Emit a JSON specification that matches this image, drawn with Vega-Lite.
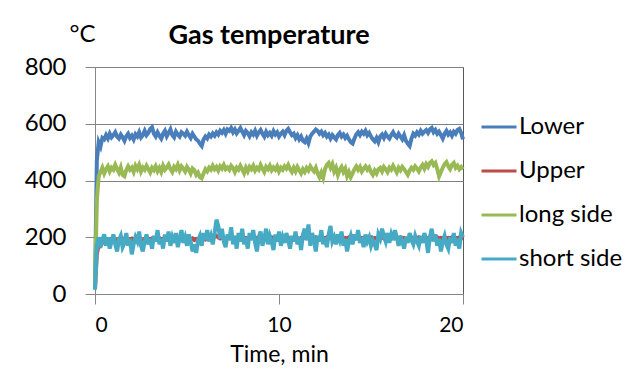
{
"$schema": "https://vega.github.io/schema/vega-lite/v6.json",
"width": 368, "height": 227,
"autosize": {"type": "none"},
"padding": {"left": 95, "top": 67, "right": 178, "bottom": 83},
"background": "white",
"config": {"font": "Lato", "view": {"stroke": "#595959", "strokeWidth": 1}},
"title": {"text": "Gas temperature", "fontSize": 27, "fontWeight": "bold", "color": "#000", "anchor": "middle", "frame": "group", "dx": -10, "dy": 42, "offset": 14},
"data": {"values": [
{"t":0,"Lower":30,"Upper":20,"long side":30,"short side":15},
{"t":0.1,"Lower":470,"Upper":140,"long side":330,"short side":170},
{"t":0.2,"Lower":535,"Upper":175,"long side":415,"short side":200},
{"t":0.3,"Lower":520,"Upper":170,"long side":430,"short side":165},
{"t":0.4,"Lower":550,"Upper":180,"long side":445,"short side":190},
{"t":0.5,"Lower":545,"Upper":185,"long side":425,"short side":210},
{"t":0.6,"Lower":560,"Upper":178,"long side":440,"short side":170},
{"t":0.7,"Lower":548,"Upper":182,"long side":450,"short side":200},
{"t":0.8,"Lower":565,"Upper":186,"long side":432,"short side":160},
{"t":0.9,"Lower":552,"Upper":190,"long side":445,"short side":185},
{"t":1.0,"Lower":560,"Upper":185,"long side":438,"short side":210},
{"t":1.1,"Lower":570,"Upper":192,"long side":455,"short side":175},
{"t":1.2,"Lower":555,"Upper":188,"long side":440,"short side":150},
{"t":1.3,"Lower":548,"Upper":186,"long side":428,"short side":190},
{"t":1.4,"Lower":562,"Upper":190,"long side":446,"short side":205},
{"t":1.5,"Lower":552,"Upper":195,"long side":420,"short side":165},
{"t":1.6,"Lower":540,"Upper":188,"long side":415,"short side":180},
{"t":1.7,"Lower":556,"Upper":192,"long side":437,"short side":215},
{"t":1.8,"Lower":565,"Upper":188,"long side":450,"short side":170},
{"t":1.9,"Lower":550,"Upper":192,"long side":438,"short side":195},
{"t":2.0,"Lower":558,"Upper":195,"long side":445,"short side":140},
{"t":2.1,"Lower":545,"Upper":190,"long side":430,"short side":175},
{"t":2.2,"Lower":563,"Upper":186,"long side":452,"short side":200},
{"t":2.3,"Lower":555,"Upper":192,"long side":440,"short side":185},
{"t":2.4,"Lower":570,"Upper":196,"long side":455,"short side":220},
{"t":2.5,"Lower":552,"Upper":190,"long side":432,"short side":170},
{"t":2.6,"Lower":560,"Upper":188,"long side":446,"short side":150},
{"t":2.7,"Lower":575,"Upper":194,"long side":438,"short side":185},
{"t":2.8,"Lower":560,"Upper":190,"long side":452,"short side":210},
{"t":2.9,"Lower":568,"Upper":195,"long side":440,"short side":175},
{"t":3.0,"Lower":582,"Upper":192,"long side":428,"short side":195},
{"t":3.1,"Lower":588,"Upper":196,"long side":445,"short side":160},
{"t":3.2,"Lower":565,"Upper":190,"long side":437,"short side":205},
{"t":3.3,"Lower":555,"Upper":194,"long side":450,"short side":185},
{"t":3.4,"Lower":570,"Upper":192,"long side":433,"short side":225},
{"t":3.5,"Lower":558,"Upper":197,"long side":445,"short side":175},
{"t":3.6,"Lower":548,"Upper":190,"long side":430,"short side":195},
{"t":3.7,"Lower":565,"Upper":194,"long side":452,"short side":160},
{"t":3.8,"Lower":575,"Upper":196,"long side":438,"short side":210},
{"t":3.9,"Lower":556,"Upper":192,"long side":446,"short side":185},
{"t":4.0,"Lower":568,"Upper":195,"long side":456,"short side":220},
{"t":4.1,"Lower":580,"Upper":190,"long side":440,"short side":170},
{"t":4.2,"Lower":560,"Upper":196,"long side":430,"short side":200},
{"t":4.3,"Lower":552,"Upper":192,"long side":448,"short side":180},
{"t":4.4,"Lower":572,"Upper":194,"long side":440,"short side":215},
{"t":4.5,"Lower":562,"Upper":198,"long side":455,"short side":165},
{"t":4.6,"Lower":555,"Upper":192,"long side":436,"short side":195},
{"t":4.7,"Lower":570,"Upper":196,"long side":450,"short side":225},
{"t":4.8,"Lower":565,"Upper":192,"long side":442,"short side":180},
{"t":4.9,"Lower":558,"Upper":196,"long side":432,"short side":200},
{"t":5.0,"Lower":572,"Upper":190,"long side":448,"short side":170},
{"t":5.1,"Lower":560,"Upper":194,"long side":438,"short side":210},
{"t":5.2,"Lower":550,"Upper":192,"long side":425,"short side":185},
{"t":5.3,"Lower":565,"Upper":196,"long side":442,"short side":150},
{"t":5.4,"Lower":555,"Upper":190,"long side":436,"short side":175},
{"t":5.5,"Lower":545,"Upper":194,"long side":420,"short side":145},
{"t":5.6,"Lower":540,"Upper":192,"long side":428,"short side":190},
{"t":5.7,"Lower":530,"Upper":196,"long side":412,"short side":205},
{"t":5.8,"Lower":522,"Upper":190,"long side":408,"short side":170},
{"t":5.9,"Lower":545,"Upper":194,"long side":425,"short side":215},
{"t":6.0,"Lower":555,"Upper":192,"long side":440,"short side":190},
{"t":6.1,"Lower":548,"Upper":196,"long side":432,"short side":225},
{"t":6.2,"Lower":562,"Upper":200,"long side":445,"short side":185},
{"t":6.3,"Lower":555,"Upper":194,"long side":438,"short side":205},
{"t":6.4,"Lower":566,"Upper":198,"long side":452,"short side":175},
{"t":6.5,"Lower":558,"Upper":202,"long side":440,"short side":215},
{"t":6.6,"Lower":570,"Upper":205,"long side":448,"short side":262},
{"t":6.7,"Lower":562,"Upper":200,"long side":435,"short side":240},
{"t":6.8,"Lower":575,"Upper":196,"long side":450,"short side":195},
{"t":6.9,"Lower":568,"Upper":200,"long side":442,"short side":230},
{"t":7.0,"Lower":578,"Upper":198,"long side":455,"short side":185},
{"t":7.1,"Lower":565,"Upper":194,"long side":440,"short side":165},
{"t":7.2,"Lower":580,"Upper":198,"long side":446,"short side":210},
{"t":7.3,"Lower":575,"Upper":196,"long side":438,"short side":190},
{"t":7.4,"Lower":585,"Upper":200,"long side":452,"short side":235},
{"t":7.5,"Lower":570,"Upper":196,"long side":444,"short side":175},
{"t":7.6,"Lower":580,"Upper":198,"long side":430,"short side":205},
{"t":7.7,"Lower":566,"Upper":194,"long side":445,"short side":160},
{"t":7.8,"Lower":575,"Upper":198,"long side":438,"short side":215},
{"t":7.9,"Lower":585,"Upper":196,"long side":452,"short side":185},
{"t":8.0,"Lower":572,"Upper":200,"long side":440,"short side":230},
{"t":8.1,"Lower":560,"Upper":196,"long side":426,"short side":175},
{"t":8.2,"Lower":575,"Upper":198,"long side":445,"short side":200},
{"t":8.3,"Lower":568,"Upper":194,"long side":432,"short side":160},
{"t":8.4,"Lower":556,"Upper":198,"long side":448,"short side":215},
{"t":8.5,"Lower":570,"Upper":196,"long side":440,"short side":190},
{"t":8.6,"Lower":562,"Upper":200,"long side":452,"short side":225},
{"t":8.7,"Lower":575,"Upper":196,"long side":435,"short side":180},
{"t":8.8,"Lower":558,"Upper":198,"long side":445,"short side":150},
{"t":8.9,"Lower":570,"Upper":196,"long side":438,"short side":200},
{"t":9.0,"Lower":578,"Upper":200,"long side":455,"short side":220},
{"t":9.1,"Lower":565,"Upper":196,"long side":442,"short side":170},
{"t":9.2,"Lower":555,"Upper":198,"long side":430,"short side":195},
{"t":9.3,"Lower":572,"Upper":194,"long side":448,"short side":230},
{"t":9.4,"Lower":560,"Upper":198,"long side":440,"short side":175},
{"t":9.5,"Lower":568,"Upper":196,"long side":452,"short side":205},
{"t":9.6,"Lower":558,"Upper":200,"long side":436,"short side":185},
{"t":9.7,"Lower":574,"Upper":196,"long side":446,"short side":155},
{"t":9.8,"Lower":562,"Upper":198,"long side":438,"short side":210},
{"t":9.9,"Lower":570,"Upper":194,"long side":450,"short side":185},
{"t":10.0,"Lower":555,"Upper":198,"long side":432,"short side":220},
{"t":10.1,"Lower":565,"Upper":196,"long side":445,"short side":170},
{"t":10.2,"Lower":572,"Upper":200,"long side":438,"short side":200},
{"t":10.3,"Lower":560,"Upper":196,"long side":450,"short side":180},
{"t":10.4,"Lower":575,"Upper":198,"long side":442,"short side":215},
{"t":10.5,"Lower":582,"Upper":194,"long side":455,"short side":190},
{"t":10.6,"Lower":570,"Upper":198,"long side":440,"short side":160},
{"t":10.7,"Lower":560,"Upper":196,"long side":430,"short side":205},
{"t":10.8,"Lower":565,"Upper":200,"long side":445,"short side":185},
{"t":10.9,"Lower":550,"Upper":196,"long side":432,"short side":220},
{"t":11.0,"Lower":560,"Upper":198,"long side":448,"short side":175},
{"t":11.1,"Lower":545,"Upper":194,"long side":436,"short side":200},
{"t":11.2,"Lower":555,"Upper":198,"long side":425,"short side":155},
{"t":11.3,"Lower":540,"Upper":196,"long side":440,"short side":210},
{"t":11.4,"Lower":535,"Upper":200,"long side":430,"short side":230},
{"t":11.5,"Lower":548,"Upper":196,"long side":444,"short side":190},
{"t":11.6,"Lower":532,"Upper":198,"long side":435,"short side":245},
{"t":11.7,"Lower":555,"Upper":194,"long side":450,"short side":170},
{"t":11.8,"Lower":565,"Upper":198,"long side":440,"short side":215},
{"t":11.9,"Lower":572,"Upper":196,"long side":432,"short side":190},
{"t":12.0,"Lower":580,"Upper":200,"long side":445,"short side":150},
{"t":12.1,"Lower":575,"Upper":196,"long side":425,"short side":205},
{"t":12.2,"Lower":565,"Upper":198,"long side":412,"short side":185},
{"t":12.3,"Lower":572,"Upper":194,"long side":428,"short side":225},
{"t":12.4,"Lower":560,"Upper":198,"long side":410,"short side":175},
{"t":12.5,"Lower":568,"Upper":196,"long side":440,"short side":200},
{"t":12.6,"Lower":555,"Upper":200,"long side":455,"short side":165},
{"t":12.7,"Lower":562,"Upper":196,"long side":462,"short side":210},
{"t":12.8,"Lower":548,"Upper":198,"long side":445,"short side":240},
{"t":12.9,"Lower":560,"Upper":194,"long side":458,"short side":185},
{"t":13.0,"Lower":552,"Upper":198,"long side":432,"short side":200},
{"t":13.1,"Lower":545,"Upper":196,"long side":445,"short side":175},
{"t":13.2,"Lower":560,"Upper":200,"long side":420,"short side":210},
{"t":13.3,"Lower":568,"Upper":196,"long side":438,"short side":190},
{"t":13.4,"Lower":555,"Upper":198,"long side":448,"short side":220},
{"t":13.5,"Lower":562,"Upper":194,"long side":430,"short side":170},
{"t":13.6,"Lower":550,"Upper":198,"long side":442,"short side":195},
{"t":13.7,"Lower":558,"Upper":196,"long side":415,"short side":150},
{"t":13.8,"Lower":545,"Upper":200,"long side":430,"short side":185},
{"t":13.9,"Lower":535,"Upper":196,"long side":412,"short side":205},
{"t":14.0,"Lower":530,"Upper":198,"long side":425,"short side":175},
{"t":14.1,"Lower":548,"Upper":194,"long side":440,"short side":210},
{"t":14.2,"Lower":562,"Upper":198,"long side":450,"short side":190},
{"t":14.3,"Lower":570,"Upper":196,"long side":438,"short side":225},
{"t":14.4,"Lower":560,"Upper":200,"long side":448,"short side":180},
{"t":14.5,"Lower":572,"Upper":196,"long side":432,"short side":200},
{"t":14.6,"Lower":565,"Upper":198,"long side":442,"short side":165},
{"t":14.7,"Lower":575,"Upper":194,"long side":450,"short side":210},
{"t":14.8,"Lower":560,"Upper":198,"long side":438,"short side":185},
{"t":14.9,"Lower":568,"Upper":196,"long side":446,"short side":200},
{"t":15.0,"Lower":555,"Upper":200,"long side":430,"short side":170},
{"t":15.1,"Lower":545,"Upper":196,"long side":420,"short side":190},
{"t":15.2,"Lower":538,"Upper":198,"long side":435,"short side":175},
{"t":15.3,"Lower":550,"Upper":194,"long side":425,"short side":155},
{"t":15.4,"Lower":535,"Upper":198,"long side":440,"short side":210},
{"t":15.5,"Lower":555,"Upper":196,"long side":445,"short side":195},
{"t":15.6,"Lower":562,"Upper":200,"long side":432,"short side":230},
{"t":15.7,"Lower":550,"Upper":196,"long side":448,"short side":205},
{"t":15.8,"Lower":565,"Upper":198,"long side":440,"short side":185},
{"t":15.9,"Lower":555,"Upper":194,"long side":430,"short side":215},
{"t":16.0,"Lower":548,"Upper":198,"long side":445,"short side":180},
{"t":16.1,"Lower":560,"Upper":196,"long side":438,"short side":210},
{"t":16.2,"Lower":570,"Upper":200,"long side":452,"short side":190},
{"t":16.3,"Lower":558,"Upper":196,"long side":440,"short side":225},
{"t":16.4,"Lower":552,"Upper":198,"long side":428,"short side":200},
{"t":16.5,"Lower":565,"Upper":196,"long side":445,"short side":170},
{"t":16.6,"Lower":555,"Upper":200,"long side":436,"short side":205},
{"t":16.7,"Lower":545,"Upper":196,"long side":448,"short side":185},
{"t":16.8,"Lower":560,"Upper":198,"long side":440,"short side":160},
{"t":16.9,"Lower":540,"Upper":194,"long side":430,"short side":200},
{"t":17.0,"Lower":530,"Upper":198,"long side":420,"short side":180},
{"t":17.1,"Lower":522,"Upper":196,"long side":435,"short side":215},
{"t":17.2,"Lower":548,"Upper":200,"long side":445,"short side":190},
{"t":17.3,"Lower":565,"Upper":196,"long side":438,"short side":175},
{"t":17.4,"Lower":558,"Upper":198,"long side":450,"short side":205},
{"t":17.5,"Lower":570,"Upper":196,"long side":442,"short side":185},
{"t":17.6,"Lower":562,"Upper":200,"long side":432,"short side":170},
{"t":17.7,"Lower":575,"Upper":196,"long side":446,"short side":205},
{"t":17.8,"Lower":565,"Upper":198,"long side":455,"short side":180},
{"t":17.9,"Lower":572,"Upper":194,"long side":442,"short side":215},
{"t":18.0,"Lower":578,"Upper":198,"long side":458,"short side":190},
{"t":18.1,"Lower":568,"Upper":196,"long side":448,"short side":145},
{"t":18.2,"Lower":580,"Upper":200,"long side":462,"short side":200},
{"t":18.3,"Lower":585,"Upper":196,"long side":468,"short side":230},
{"t":18.4,"Lower":570,"Upper":198,"long side":455,"short side":185},
{"t":18.5,"Lower":578,"Upper":196,"long side":462,"short side":210},
{"t":18.6,"Lower":565,"Upper":200,"long side":440,"short side":170},
{"t":18.7,"Lower":572,"Upper":196,"long side":415,"short side":195},
{"t":18.8,"Lower":560,"Upper":198,"long side":430,"short side":150},
{"t":18.9,"Lower":548,"Upper":196,"long side":445,"short side":185},
{"t":19.0,"Lower":565,"Upper":200,"long side":458,"short side":205},
{"t":19.1,"Lower":575,"Upper":196,"long side":465,"short side":175},
{"t":19.2,"Lower":562,"Upper":198,"long side":450,"short side":160},
{"t":19.3,"Lower":570,"Upper":196,"long side":440,"short side":200},
{"t":19.4,"Lower":558,"Upper":200,"long side":455,"short side":180},
{"t":19.5,"Lower":572,"Upper":196,"long side":462,"short side":215},
{"t":19.6,"Lower":565,"Upper":198,"long side":445,"short side":170},
{"t":19.7,"Lower":578,"Upper":196,"long side":452,"short side":195},
{"t":19.8,"Lower":582,"Upper":200,"long side":440,"short side":160},
{"t":19.9,"Lower":568,"Upper":196,"long side":448,"short side":215},
{"t":20.0,"Lower":545,"Upper":198,"long side":440,"short side":200}
]},
"transform": [{"fold": ["Lower", "Upper", "long side", "short side"], "as": ["series", "value"]}],
"mark": {"type": "line", "strokeWidth": 4, "interpolate": "linear"},
"encoding": {
  "x": {"field": "t", "type": "quantitative", "scale": {"domain": [0, 20], "nice": false},
    "axis": {"values": [0, 10, 20], "title": "Time, min", "grid": false, "domainColor": "#868686", "tickColor": "#868686", "tickSize": 10,
      "labelFontSize": 21, "labelColor": "#000", "labelPadding": 10, "titleFontSize": 23, "titleFontWeight": "normal", "titleColor": "#000", "titlePadding": 8}},
  "y": {"field": "value", "type": "quantitative", "scale": {"domain": [0, 800], "nice": false},
    "axis": {"values": [0, 200, 400, 600, 800], "title": "°C", "titleAngle": 0, "titleX": -13, "titleY": -26, "titleAlign": "center", "titleBaseline": "alphabetic",
      "titleFontSize": 24, "titleFontWeight": "normal", "titleColor": "#000",
      "grid": true, "gridColor": "#808080", "domainColor": "#868686", "tickColor": "#868686", "tickSize": 10,
      "labelFontSize": 24, "labelColor": "#000", "labelPadding": 19}},
  "color": {"field": "series", "type": "nominal",
    "scale": {"domain": ["Lower", "Upper", "long side", "short side"], "range": ["#4A7EBB", "#BE4B48", "#98B954", "#46AAC5"]},
    "legend": {"orient": "none", "legendX": 385, "legendY": 41, "title": null, "symbolType": "stroke", "symbolSize": 1225, "symbolStrokeWidth": 3,
      "labelFontSize": 24, "labelColor": "#000", "labelOffset": 1, "rowPadding": 13}}
}
}
